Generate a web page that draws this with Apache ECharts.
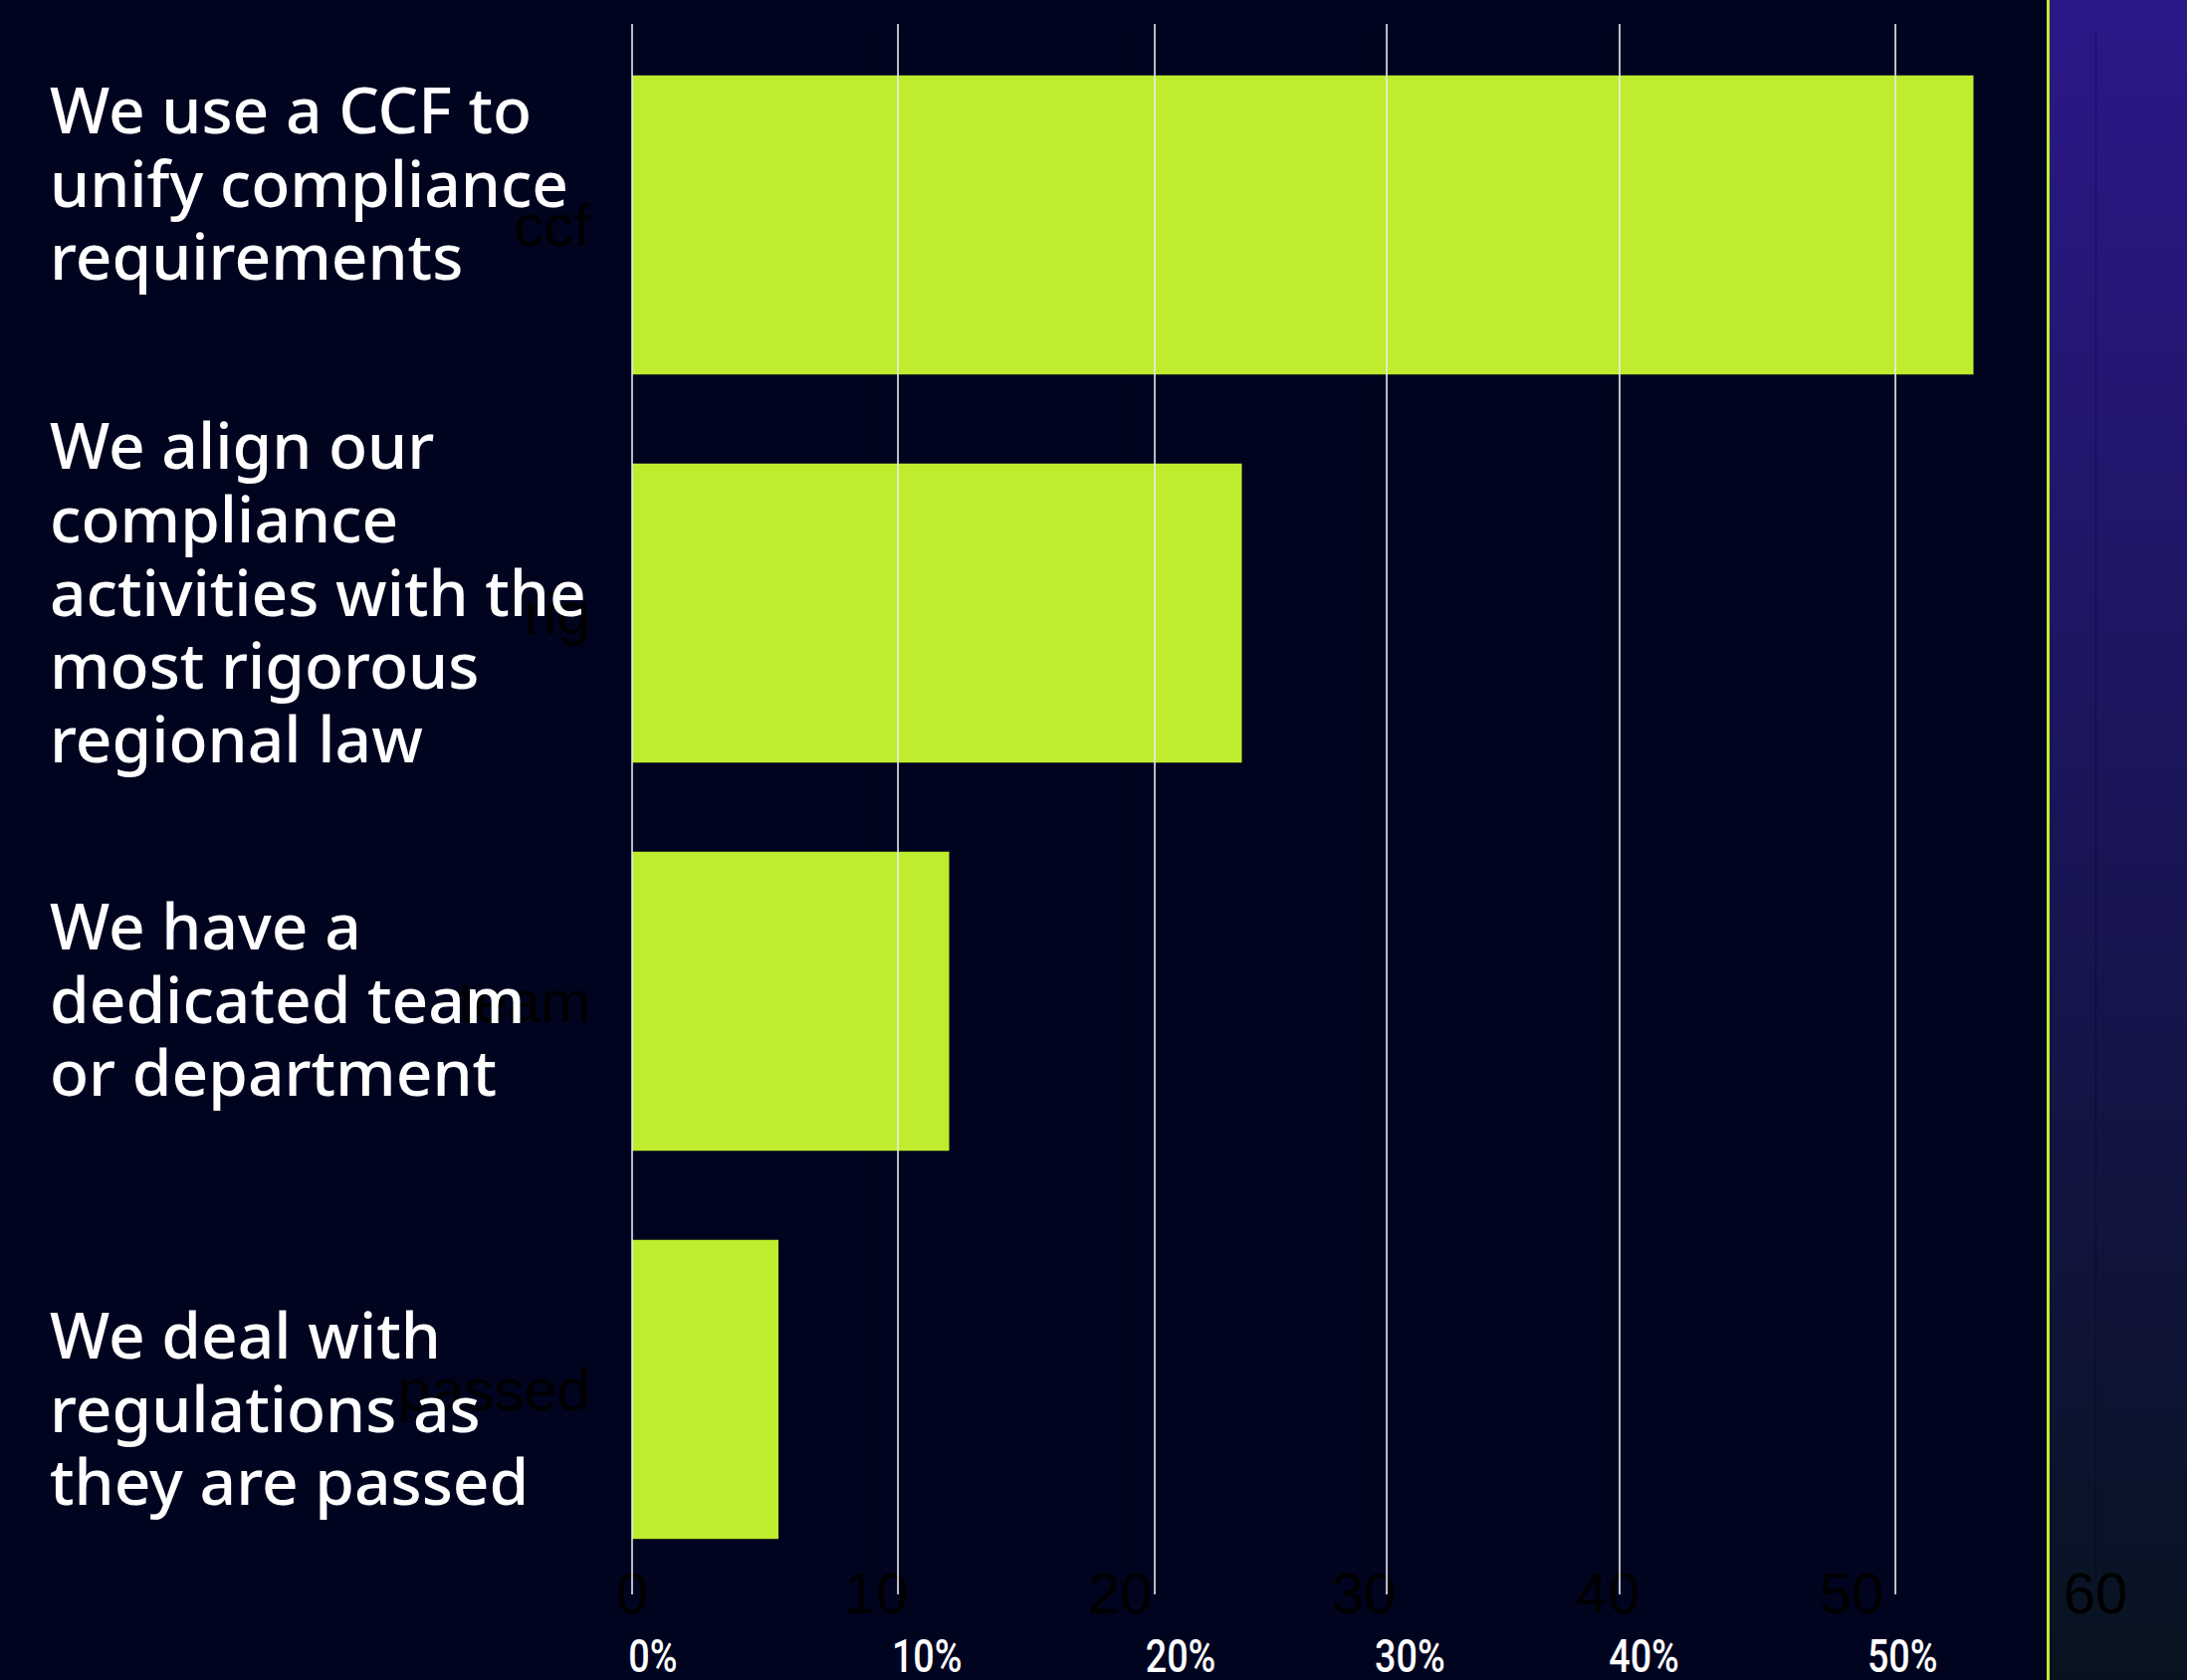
<!DOCTYPE html>
<html>
<head>
<meta charset="utf-8">
<title>Compliance approach</title>
<script src="https://cdn.jsdelivr.net/npm/echarts@6/dist/echarts.min.js"></script>
<style>
  html, body { margin: 0; padding: 0; background: #01041F; overflow: hidden; }
  #stage { position: relative; width: 2197px; height: 1688px; background: #01041F; }
  /* right-hand panel behind the plot */
  #panel { position: absolute; left: 2059px; top: 0; width: 138px; height: 1688px;
           background: linear-gradient(to bottom, #2B1889 0%, #1F1666 35%, #141446 65%, #07131F 100%); }
  #rule  { position: absolute; left: 2056px; top: 0; width: 3px; height: 1688px; background: #BEED2D; }
  #chart { position: absolute; left: 0; top: 0; width: 2197px; height: 1688px; }
</style>
</head>
<body>
<div id="stage">
  <div id="panel"></div>
  <div id="rule"></div>
  <div id="chart"></div>
</div>
<script>
// ---- data ----
const categories = ['ccf', 'rig', 'team', 'passed'];
const shares = [55, 25, 13, 6];
const statements = [
  'We use a CCF to\nunify compliance\nrequirements',
  'We align our\ncompliance\nactivities with the\nmost rigorous\nregional law',
  'We have a\ndedicated team\nor department',
  'We deal with\nregulations as\nthey are passed'
];
const guideValues = [0, 10.9, 21.43, 30.94, 40.49, 51.8];
const guideLabels = ['0%', '10%', '20%', '30%', '40%', '50%'];

// ---- layout ----
const LIME = '#BEED2D';
const statementX = 50;
const statementCenterY = [183, 594, 1003, 1414];
const guideTop = 24, guideBottom = 1602, guideLabelY = 1664;
const guideLabelAt = [-0.15, 10.65, 21.05, 30.45, 40.05, 50.65];

const chart = echarts.init(document.getElementById('chart'), null, { renderer: 'svg' });

chart.setOption({
  backgroundColor: 'transparent',
  animation: false,
  grid: { left: 635, right: 92, top: 31, bottom: 97, containLabel: false },
  xAxis: {
    type: 'value',
    min: 0, max: 60, interval: 10,
    axisLine: { show: false },
    axisTick: { show: false },
    splitLine: { show: true, lineStyle: { color: 'rgba(0,0,0,0.35)', width: 1 } },
    axisLabel: { color: '#000', fontSize: 58, margin: -20 }
  },
  yAxis: {
    type: 'category',
    data: categories,
    inverse: true,
    axisLine: { show: false },
    axisTick: { show: false },
    axisLabel: { color: '#000', fontSize: 60, margin: 42 }
  },
  series: [{
    type: 'bar',
    data: shares,
    barCategoryGap: '23%',
    itemStyle: { color: LIME },
    z: 2
  }]
});

// overlay: guide lines, percent captions and statement text
const overlay = [];
guideValues.forEach((v, i) => {
  const x = chart.convertToPixel({ xAxisIndex: 0 }, v);
  overlay.push({
    type: 'line', z: 100, silent: true,
    shape: { x1: x, y1: guideTop, x2: x, y2: guideBottom },
    style: { stroke: '#E8EAF2', lineWidth: 1.6 }
  });
  const lx = chart.convertToPixel({ xAxisIndex: 0 }, guideLabelAt[i]);
  overlay.push({
    type: 'text', z: 100, silent: true,
    x: lx, y: guideLabelY, scaleX: 0.82,
    style: {
      text: guideLabels[i], fill: '#FFFFFF',
      fontSize: 46, fontWeight: 500, fontFamily: 'Roboto, sans-serif',
      align: 'left', verticalAlign: 'middle'
    }
  });
});
statements.forEach((t, i) => {
  overlay.push({
    type: 'text', z: 100, silent: true,
    x: statementX, y: statementCenterY[i],
    style: {
      text: t, fill: '#FFFFFF',
      fontSize: 64, fontWeight: 500, fontFamily: '"Noto Sans", sans-serif',
      lineHeight: 73.6, align: 'left', verticalAlign: 'middle'
    }
  });
});
chart.setOption({ graphic: overlay });
</script>
</body>
</html>
